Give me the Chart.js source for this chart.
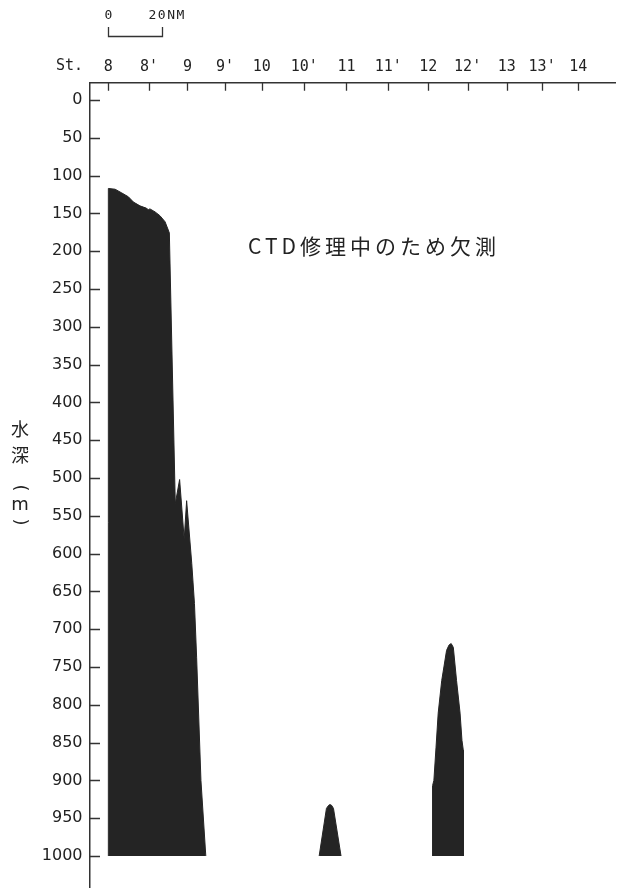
<!DOCTYPE html>
<html lang="ja">
<head>
<meta charset="utf-8">
<title>観測断面 水深</title>
<script src="https://cdn.jsdelivr.net/npm/chart.js@4/dist/chart.umd.min.js"></script>
<style>
  html, body { margin: 0; padding: 0; background: #fff; }
  #wrap { width: 620px; height: 889px; }
  canvas { display: block; }
</style>
</head>
<body>
<div id="wrap"><canvas id="chart" width="620" height="889"></canvas></div>
<script>
// Stations along the section and their along-track distance (nautical miles from St. 8)
const stationLabels = ['8', "8'", '9', "9'", '10', "10'", '11', "11'", '12', "12'", '13', "13'", '14'];
const stationDistNM = [0, 15.1, 29.3, 43.2, 56.8, 72.6, 88.2, 103.7, 118.5, 133.1, 147.6, 160.7, 174.1];

// Depth axis ticks (m)
const depthTicks = [0, 50, 100, 150, 200, 250, 300, 350, 400, 450, 500,
                    550, 600, 650, 700, 750, 800, 850, 900, 950, 1000];

// Sea-floor profile: shelf and slope St. 8 - 9
const ridgeDistNM = [0, 0, 2.5, 5.0, 7.4, 9.3, 11.7, 14.0, 14.8, 15.4, 17.3, 19.1, 21.0, 22.2,
                     22.6, 24.8, 26.4, 28.1, 29.0, 30.9, 31.9, 32.7, 34.3, 36.1];
const ridgeDepth   = [1000, 117, 118, 123, 128, 135, 140, 143, 145, 144, 148, 153, 161, 172,
                      176, 534, 502, 581, 530, 613, 666, 737, 900, 1000];

// Knoll near St. 10'
const knollDistNM = [78.1, 80.8, 81.6, 82.1, 82.7, 83.4, 86.2];
const knollDepth  = [1000, 937, 933, 932, 933, 937, 1000];

// Seamount near St. 12 - 12'
const seamountDistNM = [120.1, 120.1, 120.6, 121.4, 122.2, 123.5, 125.3, 126.2, 127.0,
                        127.8, 129.0, 130.3, 131.0, 131.5, 131.5];
const seamountDepth  = [1000, 907, 900, 856, 811, 768, 728, 721, 719,
                        724, 768, 811, 847, 860, 1000];

const scaleBarNM = 20;
const noteText = 'CTD修理中のため欠測';
const noteAt = { x: 51.7, y: 193 };   // distance (NM), depth (m)

const INK = '#242424';
const AXIS = '#333333';
const TEXT = '#222222';

const toPoints = (xs, ys) => xs.map((x, i) => ({ x, y: ys[i] }));

function profile(xs, ys) {
  return {
    data: toPoints(xs, ys),
    borderColor: INK,
    backgroundColor: INK,
    borderWidth: 1,
    pointRadius: 0,
    tension: 0,
    fill: { value: 1000 }
  };
}

// Inward tick marks, station header, distance scale, notes and the vertical depth title
const decorations = {
  id: 'decorations',
  afterDraw(chart) {
    const { ctx, chartArea, scales: { x, y } } = chart;
    ctx.save();
    ctx.strokeStyle = AXIS;
    ctx.lineWidth = 1.3;

    ctx.beginPath();
    x.ticks.forEach(t => {
      const px = Math.round(x.getPixelForValue(t.value)) + 0.5;
      ctx.moveTo(px, chartArea.top);
      ctx.lineTo(px, chartArea.top + 8);
    });
    y.ticks.forEach(t => {
      const py = Math.round(y.getPixelForValue(t.value)) + 0.5;
      ctx.moveTo(chartArea.left, py);
      ctx.lineTo(chartArea.left + 10, py);
    });
    ctx.stroke();

    // "St." header in front of the station labels
    ctx.fillStyle = TEXT;
    ctx.font = '15px "DejaVu Sans Mono", monospace';
    ctx.textAlign = 'right';
    ctx.textBaseline = 'middle';
    ctx.fillText('St.', 83, 66);

    // distance scale bar
    const b0 = Math.round(x.getPixelForValue(0)) + 0.5;
    const b1 = Math.round(x.getPixelForValue(scaleBarNM)) + 0.5;
    ctx.beginPath();
    ctx.moveTo(b0, 27);
    ctx.lineTo(b0, 36.5);
    ctx.lineTo(b1, 36.5);
    ctx.lineTo(b1, 27);
    ctx.stroke();
    ctx.font = '13px "DejaVu Sans Mono", monospace';
    ctx.textAlign = 'center';
    ctx.fillText('0', b0, 16);
    ctx.textAlign = 'left';
    ctx.letterSpacing = '1.5px';
    ctx.fillText(scaleBarNM + 'NM', b1 - 14, 16);

    // note over the unsampled part of the section
    ctx.font = '21px "Noto Sans CJK JP", sans-serif';
    ctx.letterSpacing = '4px';
    ctx.textAlign = 'left';
    ctx.fillText(noteText, x.getPixelForValue(noteAt.x), y.getPixelForValue(noteAt.y));
    ctx.letterSpacing = '0px';

    // vertical axis title 水深（m）
    ctx.font = '18px "Noto Sans CJK JP", sans-serif';
    ctx.textAlign = 'center';
    ctx.textBaseline = 'middle';
    const tx = 20;
    ctx.fillText('水', tx, 429);
    ctx.fillText('深', tx, 455);
    const rotated = (ch, cy) => {
      ctx.save();
      ctx.translate(tx, cy);
      ctx.rotate(Math.PI / 2);
      ctx.font = '18px "DejaVu Sans", sans-serif';
      ctx.fillText(ch, 0, 0);
      ctx.restore();
    };
    rotated('(', 488);
    ctx.font = '18px "DejaVu Sans", sans-serif';
    ctx.fillText('m', tx, 505);
    rotated(')', 522);

    ctx.restore();
  }
};

new Chart(document.getElementById('chart'), {
  type: 'line',
  data: {
    datasets: [
      profile(ridgeDistNM, ridgeDepth),
      profile(knollDistNM, knollDepth),
      profile(seamountDistNM, seamountDepth)
    ]
  },
  options: {
    responsive: false,
    animation: false,
    devicePixelRatio: 1,
    layout: { padding: { left: 0, right: 5, top: 0, bottom: 2 } },
    plugins: {
      legend: { display: false },
      tooltip: { enabled: false }
    },
    scales: {
      x: {
        type: 'linear',
        position: 'top',
        min: -6.8,
        max: 187.7,
        afterBuildTicks: s => { s.ticks = stationDistNM.map(v => ({ value: v })); },
        afterFit: s => { s.height = 82.7; s.paddingLeft = 0; s.paddingRight = 0; },
        ticks: {
          autoSkip: false,
          maxRotation: 0,
          minRotation: 0,
          padding: 7,
          color: TEXT,
          font: { family: '"DejaVu Sans Mono", monospace', size: 15 },
          callback: (v, i) => stationLabels[i]
        },
        grid: { display: false, drawTicks: false },
        border: { display: true, color: AXIS, width: 1.5 }
      },
      y: {
        type: 'linear',
        position: 'left',
        reverse: true,
        min: -22.9,
        max: 1041,
        afterBuildTicks: s => { s.ticks = depthTicks.map(v => ({ value: v })); },
        afterFit: s => { s.width = 90; s.paddingTop = 0; s.paddingBottom = 0; },
        ticks: {
          autoSkip: false,
          padding: 7.5,
          color: TEXT,
          font: { family: '"DejaVu Sans", sans-serif', size: 16 },
          callback: (v, i) => String(depthTicks[i])
        },
        grid: { display: false, drawTicks: false },
        border: { display: true, color: AXIS, width: 1.5 }
      }
    }
  },
  plugins: [decorations]
});
</script>
</body>
</html>
